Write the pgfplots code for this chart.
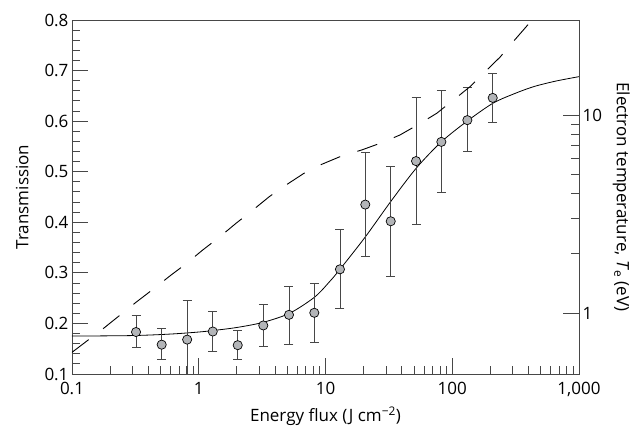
\documentclass[border=0pt]{standalone}
\usepackage{fontspec}
\setmainfont{Open Sans}
\usepackage{pgfplots}
\pgfplotsset{compat=1.18}
\definecolor{dotgrey}{HTML}{B3B5B8}
\definecolor{bargrey}{HTML}{474747}

% transmission points: x, T, upper and lower error
\pgfplotstableread{
x      y      ep     em
0.32   0.183  0.032  0.031
0.51   0.158  0.032  0.030
0.81   0.168  0.077  0.078
1.29   0.184  0.039  0.040
2.03   0.157  0.029  0.029
3.23   0.196  0.042  0.042
5.15   0.217  0.056  0.058
8.16   0.221  0.058  0.058
13.0   0.307  0.078  0.078
20.6   0.435  0.103  0.103
32.7   0.402  0.109  0.110
51.8   0.521  0.126  0.125
82.0   0.559  0.101  0.099
131.5  0.602  0.064  0.062
208.5  0.646  0.049  0.049
}\pts

\begin{document}
\begin{tikzpicture}
\path[use as bounding box] (-72pt,-54pt) rectangle (560pt,374pt);
\pgfplotsset{
  every axis/.append style={
    scale only axis, width=507pt, height=354pt, at={(0pt,0pt)}, anchor=south west,
    xmode=log, xmin=0.1, xmax=1000,
    tick align=inside,
    major tick length=16pt, minor tick length=8pt,
    every tick/.style={bargrey, line width=0.9pt},
    axis line style={bargrey, line width=0.9pt},
    tick label style={font=\fontsize{17}{20}\selectfont},
    label style={font=\fontsize{17}{20}\selectfont},
    /pgf/number format/assume math mode=true,
  },
}
\begin{axis}[
  ymin=0.1, ymax=0.8,
  xtick pos=bottom, ytick pos=left,
  xtick={0.1,1,10,100,1000}, xticklabels={0.1,1,10,100,{1,000}},
  xticklabel style={yshift=-5pt},
  ytick={0.1,0.2,0.3,0.4,0.5,0.6,0.7,0.8},
  yticklabels={0.1,0.2,0.3,0.4,0.5,0.6,0.7,0.8},
  minor y tick num=4,
  xlabel={Energy flux (J cm\textsuperscript{−2})},
  xlabel shift=3pt,
  ylabel={Transmission},
  ylabel shift=9pt,
]
\addplot[black, line width=0.8pt, smooth] coordinates {
  (0.1,0.175) (0.3,0.176) (0.6,0.179) (1,0.183) (1.3,0.186) (2,0.192)
  (3.2,0.202) (5.2,0.220) (8.2,0.252) (10.8,0.283) (13,0.307) (20.6,0.371)
  (32.7,0.441) (52,0.507) (82,0.559) (131,0.600) (208,0.635) (300,0.653)
  (436,0.668) (650,0.679) (1000,0.688)
};
\addplot[only marks, mark=*, mark size=4.6pt,
  mark options={fill=dotgrey, draw=black, line width=0.7pt},
  error bars/.cd, y dir=both, y explicit,
  error bar style={line width=0.85pt, bargrey},
  error mark options={rotate=90, mark size=4.5pt, line width=0.85pt, bargrey}]
  table[x=x, y=y, y error plus=ep, y error minus=em] {\pts};
\end{axis}
\begin{axis}[
  axis x line=none, axis y line*=right, y axis line style={-},
  ymode=log, ymin=0.492, ymax=30.2,
  ytick={1,10}, yticklabels={1,10},
  ylabel={Electron temperature, \textit{T}\textsubscript{e} (eV)},
  ylabel style={rotate=180},
  ylabel shift=4pt,
]
\addplot[black, line width=0.9pt, dash pattern=on 21pt off 18pt] coordinates {
  (0.1,0.633) (0.18,0.843) (0.324,1.14) (0.446,1.333) (0.593,1.54) (0.80,1.78)
  (1.074,2.08) (1.47,2.43) (1.97,2.84) (2.67,3.31) (3.6,3.87) (4.88,4.43)
  (6.77,5.08) (9.05,5.59) (13.4,6.21) (19.3,6.66) (27.8,7.25) (38.7,7.93)
  (54.7,9.0) (75.4,10.2) (102,11.9) (138,13.9) (181,16.5) (238,19.6)
  (303,23.5) (394,28.5) (434,30.2)
};
\end{axis}
\end{tikzpicture}
\end{document}
